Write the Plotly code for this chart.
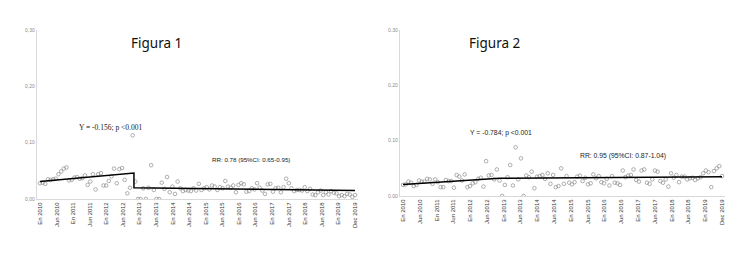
import numpy as np
import plotly.graph_objects as go

# ---- data -----------------------------------------------------------------
months = list(range(120))  # Jan 2010 .. Dec 2019

fig1_values = [
    0.028, 0.029, 0.027, 0.035, 0.034, 0.035, 0.036, 0.044, 0.049, 0.054, 0.056, 0.033,
    0.034, 0.038, 0.039, 0.036, 0.037, 0.042, 0.025, 0.031, 0.044, 0.017, 0.044, 0.046,
    0.024, 0.024, 0.032, 0.040, 0.054, 0.028, 0.053, 0.055, 0.034, 0.010, 0.020, 0.113,
    0.031, 0.000, 0.000, 0.019, 0.000, 0.020, 0.060, 0.016, 0.000, 0.000, 0.029, 0.018,
    0.039, 0.012, 0.022, 0.009, 0.031, 0.019, 0.014, 0.016, 0.015, 0.014, 0.019, 0.015,
    0.027, 0.016, 0.019, 0.021, 0.017, 0.024, 0.022, 0.016, 0.021, 0.019, 0.032, 0.022,
    0.020, 0.024, 0.012, 0.025, 0.028, 0.026, 0.013, 0.014, 0.019, 0.017, 0.028, 0.020,
    0.015, 0.009, 0.026, 0.027, 0.013, 0.019, 0.020, 0.012, 0.021, 0.036, 0.028, 0.019,
    0.014, 0.016, 0.016, 0.015, 0.021, 0.014, 0.018, 0.008, 0.007, 0.012, 0.015, 0.007,
    0.012, 0.008, 0.014, 0.011, 0.010, 0.005, 0.007, 0.005, 0.009, 0.008, 0.004, 0.007,
]

fig2_values = [
    0.020, 0.021, 0.026, 0.024, 0.018, 0.020, 0.028, 0.026, 0.026, 0.031, 0.030, 0.022,
    0.030, 0.025, 0.016, 0.016, 0.029, 0.027, 0.027, 0.015, 0.038, 0.035, 0.028, 0.039,
    0.016, 0.018, 0.023, 0.025, 0.031, 0.033, 0.017, 0.063, 0.037, 0.038, 0.030, 0.048,
    0.028, 0.000, 0.020, 0.034, 0.056, 0.019, 0.088, 0.030, 0.068, 0.000, 0.037, 0.034,
    0.044, 0.014, 0.035, 0.036, 0.038, 0.031, 0.041, 0.022, 0.038, 0.016, 0.018, 0.050,
    0.022, 0.036, 0.024, 0.021, 0.025, 0.035, 0.037, 0.027, 0.033, 0.021, 0.023, 0.039,
    0.032, 0.036, 0.025, 0.023, 0.031, 0.019, 0.036, 0.024, 0.023, 0.020, 0.046, 0.034,
    0.037, 0.038, 0.048, 0.029, 0.026, 0.046, 0.048, 0.024, 0.022, 0.030, 0.046, 0.044,
    0.027, 0.024, 0.030, 0.017, 0.041, 0.033, 0.038, 0.025, 0.035, 0.035, 0.030, 0.032,
    0.033, 0.029, 0.032, 0.034, 0.041, 0.046, 0.043, 0.016, 0.045, 0.050, 0.054, 0.036,
]

trend1_x = [0, 35.5, 35.5, 119]
trend1_y = [0.031, 0.046, 0.020, 0.015]
trend2_x = [0, 36, 119]
trend2_y = [0.021, 0.032, 0.035]

x_tick_labels = [
    "En 2010", "Jun 2010", "En 2011", "Jun 2011", "En 2012", "Jun 2012",
    "En 2013", "Jun 2013", "En 2014", "Jun 2014", "En 2015", "Jun 2015",
    "En 2016", "Jun 2016", "En 2017", "Jun 2017", "En 2018", "Jun 2018",
    "En 2019", "Dec 2019",
]
y_tick_vals = [0.0, 0.1, 0.2, 0.3]
y_tick_labels_1 = ["0,00", "0,10", "0,20", "0,30"]
y_tick_labels_2 = ["0.00", "0.10", "0.20", "0.30"]

# ---- figure ---------------------------------------------------------------
W, H = 750, 257
fig = go.Figure()

marker = dict(symbol="circle-open", size=3.6, color="#8c8c8c", line=dict(width=0.7, color="#8c8c8c"))

fig.add_trace(go.Scatter(x=months, y=fig1_values, mode="markers", marker=marker,
                         xaxis="x", yaxis="y", showlegend=False, hoverinfo="skip"))
fig.add_trace(go.Scatter(x=trend1_x, y=trend1_y, mode="lines", line=dict(color="black", width=1.5),
                         xaxis="x", yaxis="y", showlegend=False, hoverinfo="skip"))
fig.add_trace(go.Scatter(x=months, y=fig2_values, mode="markers", marker=marker,
                         xaxis="x2", yaxis="y2", showlegend=False, hoverinfo="skip"))
fig.add_trace(go.Scatter(x=trend2_x, y=trend2_y, mode="lines", line=dict(color="black", width=1.5),
                         xaxis="x2", yaxis="y2", showlegend=False, hoverinfo="skip"))

tick_pos = list(np.linspace(0, 119, len(x_tick_labels)))

xcommon = dict(range=[-1.2, 120.2], showgrid=False, zeroline=False, showline=True,
               linecolor="#d9d9d9", linewidth=1, ticks="", tickmode="array",
               tickvals=tick_pos, ticktext=x_tick_labels, tickangle=-90, automargin=False,
               tickfont=dict(family="Liberation Sans", size=6, color="#333333"))
ycommon = dict(range=[0, 0.30], showgrid=False, zeroline=False, showline=True,
               linecolor="#d9d9d9", linewidth=1, ticks="", tickmode="array",
               tickvals=y_tick_vals, automargin=False,
               tickfont=dict(family="Liberation Sans", size=5, color="#8a8a8a"))

fig.update_layout(
    width=W, height=H,
    margin=dict(l=0, r=0, t=0, b=0),
    paper_bgcolor="white", plot_bgcolor="white",
    hovermode=False,
    xaxis=dict(xcommon, domain=[36.8 / W, 358.2 / W], anchor="y"),
    yaxis=dict(ycommon, domain=[1 - 199 / H, 1 - 30 / H], anchor="x", ticktext=y_tick_labels_1),
    xaxis2=dict(xcommon, domain=[399.8 / W, 725.2 / W], anchor="y2"),
    yaxis2=dict(ycommon, domain=[1 - 196 / H, 1 - 30 / H], anchor="x2", ticktext=y_tick_labels_2),
)

def ann(text, px, py, size, family, color="#222222"):
    fig.add_annotation(text=text, xref="paper", yref="paper", x=px / W, y=1 - py / H,
                       xanchor="center", yanchor="middle", showarrow=False,
                       font=dict(family=family, size=size, color=color))

ann("Figura 1", 156, 43, 13.5, "Noto Sans", "#111111")
ann("Y = -0.156; p &lt;0.001", 110, 127, 7.5, "Liberation Serif")
ann("RR: 0.78 (95%CI: 0.65-0.95)", 251, 159, 6.2, "Liberation Sans")
ann("Figura 2", 495, 43, 13.5, "Noto Sans", "#111111")
ann("Y = -0.784; p &lt;0.001", 501, 133, 6.8, "Liberation Sans")
ann("RR: 0.95 (95%CI: 0.87-1.04)", 623, 156, 6.8, "Liberation Sans")

fig.write_html("out.html", config={"displayModeBar": False, "staticPlot": True},
               post_script="document.body.style.margin='0';document.body.style.overflow='hidden';")
